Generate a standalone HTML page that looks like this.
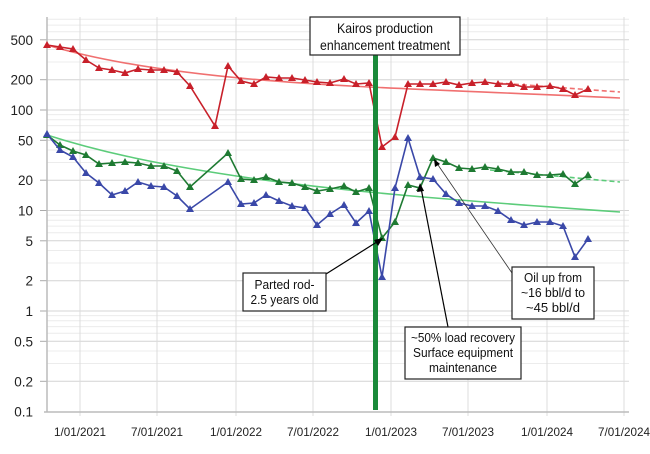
<!DOCTYPE html>
<html><head><meta charset="utf-8"><style>
html,body{margin:0;padding:0;background:#fff;}
svg{display:block;font-family:"Liberation Sans",Arial,sans-serif;}
</style></head><body>
<svg width="650" height="454" viewBox="0 0 650 454" xmlns="http://www.w3.org/2000/svg">
<defs>
<marker id="mr" markerWidth="10" markerHeight="10" refX="5" refY="5" markerUnits="userSpaceOnUse"><polygon points="5,1 1,8 9,8" fill="#c8202a"/></marker>
<marker id="mg" markerWidth="10" markerHeight="10" refX="5" refY="5" markerUnits="userSpaceOnUse"><polygon points="5,1 1,8 9,8" fill="#1e7a32"/></marker>
<marker id="mb" markerWidth="10" markerHeight="10" refX="5" refY="5" markerUnits="userSpaceOnUse"><polygon points="5,1 1,8 9,8" fill="#3a48a8"/></marker>
</defs>
<!-- minor grid -->
<g stroke="#ececec" stroke-width="1">
<line x1="47" x2="629" y1="363.5" y2="363.5"/><line x1="47" x2="629" y1="351" y2="351"/><line x1="47" x2="629" y1="333.3" y2="333.3"/><line x1="47" x2="629" y1="326.6" y2="326.6"/><line x1="47" x2="629" y1="320.7" y2="320.7"/><line x1="47" x2="629" y1="315.6" y2="315.6"/>
<line x1="47" x2="629" y1="263" y2="263"/><line x1="47" x2="629" y1="250.5" y2="250.5"/><line x1="47" x2="629" y1="232.8" y2="232.8"/><line x1="47" x2="629" y1="226.1" y2="226.1"/><line x1="47" x2="629" y1="220.2" y2="220.2"/><line x1="47" x2="629" y1="215.1" y2="215.1"/>
<line x1="47" x2="629" y1="162.5" y2="162.5"/><line x1="47" x2="629" y1="150" y2="150"/><line x1="47" x2="629" y1="132.3" y2="132.3"/><line x1="47" x2="629" y1="125.6" y2="125.6"/><line x1="47" x2="629" y1="119.7" y2="119.7"/><line x1="47" x2="629" y1="114.6" y2="114.6"/>
<line x1="47" x2="629" y1="62" y2="62"/><line x1="47" x2="629" y1="49.5" y2="49.5"/><line x1="47" x2="629" y1="31.8" y2="31.8"/><line x1="47" x2="629" y1="25.1" y2="25.1"/><line x1="47" x2="629" y1="19.2" y2="19.2"/>
</g>
<g stroke="#d4d4d4" stroke-width="1">
<line x1="47" x2="629" y1="381.3" y2="381.3"/><line x1="47" x2="629" y1="341.3" y2="341.3"/><line x1="47" x2="629" y1="311" y2="311"/><line x1="47" x2="629" y1="280.7" y2="280.7"/><line x1="47" x2="629" y1="240.8" y2="240.8"/><line x1="47" x2="629" y1="210.5" y2="210.5"/><line x1="47" x2="629" y1="180.2" y2="180.2"/><line x1="47" x2="629" y1="140.3" y2="140.3"/><line x1="47" x2="629" y1="110" y2="110"/><line x1="47" x2="629" y1="79.7" y2="79.7"/><line x1="47" x2="629" y1="39.8" y2="39.8"/>
</g>
<g stroke="#dcdcdc" stroke-width="1">
<line x1="80" x2="80" y1="17" y2="416"/><line x1="157" x2="157" y1="17" y2="416"/><line x1="236" x2="236" y1="17" y2="416"/><line x1="313" x2="313" y1="17" y2="416"/><line x1="391" x2="391" y1="17" y2="416"/><line x1="468" x2="468" y1="17" y2="416"/><line x1="547" x2="547" y1="17" y2="416"/><line x1="624" x2="624" y1="17" y2="416"/>
</g>
<g stroke="#aaa" stroke-width="1">
<line x1="40" x2="47" y1="381.3" y2="381.3"/><line x1="40" x2="47" y1="341.3" y2="341.3"/><line x1="40" x2="47" y1="311" y2="311"/><line x1="40" x2="47" y1="280.7" y2="280.7"/><line x1="40" x2="47" y1="240.8" y2="240.8"/><line x1="40" x2="47" y1="210.5" y2="210.5"/><line x1="40" x2="47" y1="180.2" y2="180.2"/><line x1="40" x2="47" y1="140.3" y2="140.3"/><line x1="40" x2="47" y1="110" y2="110"/><line x1="40" x2="47" y1="79.7" y2="79.7"/><line x1="40" x2="47" y1="39.8" y2="39.8"/>
</g>
<line x1="47" x2="47" y1="17" y2="412" stroke="#bbb" stroke-width="1.5"/>
<line x1="44" x2="629" y1="412" y2="412" stroke="#bbb" stroke-width="1.5"/>
<g font-size="13.5" text-anchor="end" fill="#222">
<text x="33" y="416.5">0.1</text><text x="33" y="386.3">0.2</text><text x="33" y="346.3">0.5</text><text x="33" y="316">1</text><text x="33" y="285.7">2</text><text x="33" y="245.8">5</text><text x="33" y="215.5">10</text><text x="33" y="185.2">20</text><text x="33" y="145.3">50</text><text x="33" y="115">100</text><text x="33" y="84.7">200</text><text x="33" y="44.8">500</text>
</g>
<g font-size="12" text-anchor="middle" fill="#222" lengthAdjust="spacingAndGlyphs">
<text x="80" y="436" textLength="52" lengthAdjust="spacingAndGlyphs">1/01/2021</text>
<text x="157" y="436" textLength="52" lengthAdjust="spacingAndGlyphs">7/01/2021</text>
<text x="236" y="436" textLength="52" lengthAdjust="spacingAndGlyphs">1/01/2022</text>
<text x="313" y="436" textLength="52" lengthAdjust="spacingAndGlyphs">7/01/2022</text>
<text x="391" y="436" textLength="52" lengthAdjust="spacingAndGlyphs">1/01/2023</text>
<text x="468" y="436" textLength="52" lengthAdjust="spacingAndGlyphs">7/01/2023</text>
<text x="547" y="436" textLength="52" lengthAdjust="spacingAndGlyphs">1/01/2024</text>
<text x="624" y="436" textLength="52" lengthAdjust="spacingAndGlyphs">7/01/2024</text>
</g>
<!-- trends -->
<path d="M47,45 C90,58 150,70 250,79 S450,90 620,98" fill="none" stroke="#f07070" stroke-width="1.6"/>
<line x1="498" y1="83" x2="620" y2="92" stroke="#f07070" stroke-width="1.6" stroke-dasharray="5,3"/>
<path d="M47,135 C100,152 160,165 250,178 S450,200 620,212" fill="none" stroke="#5ccc7a" stroke-width="1.6"/>
<line x1="490" y1="170" x2="620" y2="182" stroke="#5ccc7a" stroke-width="1.6" stroke-dasharray="5,3"/>
<!-- series -->
<polyline fill="none" stroke="#c8202a" stroke-width="1.6" marker-start="url(#mr)" marker-mid="url(#mr)" marker-end="url(#mr)" points="47,45 60,47 73,49 86,60 99,68 112,70 125,73 138,69 151,70 164,70 177,72 190,86 215,126 228,66 241,81 254,84 266,77 279,78 292,78 305,80 317,82 330,83 344,79 356,84 369,83 382,147 395,137 408,84 420,84 433,84 446,82 459,85 472,83 485,82 498,84 511,84 524,87 537,87 550,86 563,89 575,95 588,89"/>
<polyline fill="none" stroke="#1e7a32" stroke-width="1.6" marker-start="url(#mg)" marker-mid="url(#mg)" marker-end="url(#mg)" points="47,135 60,145 73,151 86,155 99,164 112,163 125,162 138,163 151,166 164,166 177,171 190,187 228,153 241,179 254,180 266,177 279,182 292,183 305,187 317,191 330,189 344,186 356,192 369,188 382,238 395,222 408,185 420,188 433,158 446,162 459,168 472,169 485,167 498,169 511,172 524,172 537,175 550,175 563,174 575,184 588,175"/>
<polyline fill="none" stroke="#3a48a8" stroke-width="1.6" marker-start="url(#mb)" marker-mid="url(#mb)" marker-end="url(#mb)" points="47,134 60,150 73,157 86,173 99,183 112,195 125,191 138,182 151,186 164,187 177,196 190,209 228,182 241,204 254,203 266,195 279,201 292,206 305,208 317,225 330,214 344,205 356,223 369,211 382,277 395,188 408,138 420,177 433,179 446,194 459,203 472,206 485,206 498,211 511,220 524,225 537,222 550,222 563,226 575,257 588,239"/>
<rect x="373" y="50" width="5" height="360" fill="#1a8a3a"/>
<!-- arrows -->
<line x1="326" y1="274" x2="380" y2="240" stroke="#000" stroke-width="1.2"/><polygon points="383,238 374,240 378,246" fill="#000"/>
<line x1="448" y1="327" x2="421" y2="188" stroke="#000" stroke-width="1.2"/><polygon points="420,183 417,192 424,191" fill="#000"/>
<line x1="512" y1="273" x2="436" y2="162" stroke="#333" stroke-width="0.8"/><polygon points="434,159 435,167 440,164" fill="#000"/>
<!-- boxes -->
<g fill="#fff" stroke="#222" stroke-width="1.2">
<rect x="310" y="17" width="150" height="38"/>
<rect x="243" y="273" width="83" height="38"/>
<rect x="405" y="327" width="116" height="52"/>
<rect x="512" y="267" width="82" height="52"/>
</g>
<g text-anchor="middle" fill="#111">
<text x="385" y="33" font-size="14" textLength="96" lengthAdjust="spacingAndGlyphs">Kairos production</text>
<text x="385" y="50" font-size="14" textLength="130" lengthAdjust="spacingAndGlyphs">enhancement treatment</text>
<text x="284.5" y="289" font-size="13" textLength="60" lengthAdjust="spacingAndGlyphs">Parted rod-</text>
<text x="284.5" y="304" font-size="13" textLength="68" lengthAdjust="spacingAndGlyphs">2.5 years old</text>
<text x="463" y="342" font-size="13" textLength="104" lengthAdjust="spacingAndGlyphs">~50% load recovery</text>
<text x="463" y="357" font-size="13" textLength="100" lengthAdjust="spacingAndGlyphs">Surface equipment</text>
<text x="463" y="372" font-size="13" textLength="68" lengthAdjust="spacingAndGlyphs">maintenance</text>
<text x="553" y="282" font-size="13" textLength="58" lengthAdjust="spacingAndGlyphs">Oil up from</text>
<text x="553" y="297" font-size="13" textLength="64" lengthAdjust="spacingAndGlyphs">~16 bbl/d to</text>
<text x="553" y="312" font-size="13" textLength="54" lengthAdjust="spacingAndGlyphs">~45 bbl/d</text>
</g>
</svg>
</body></html>
